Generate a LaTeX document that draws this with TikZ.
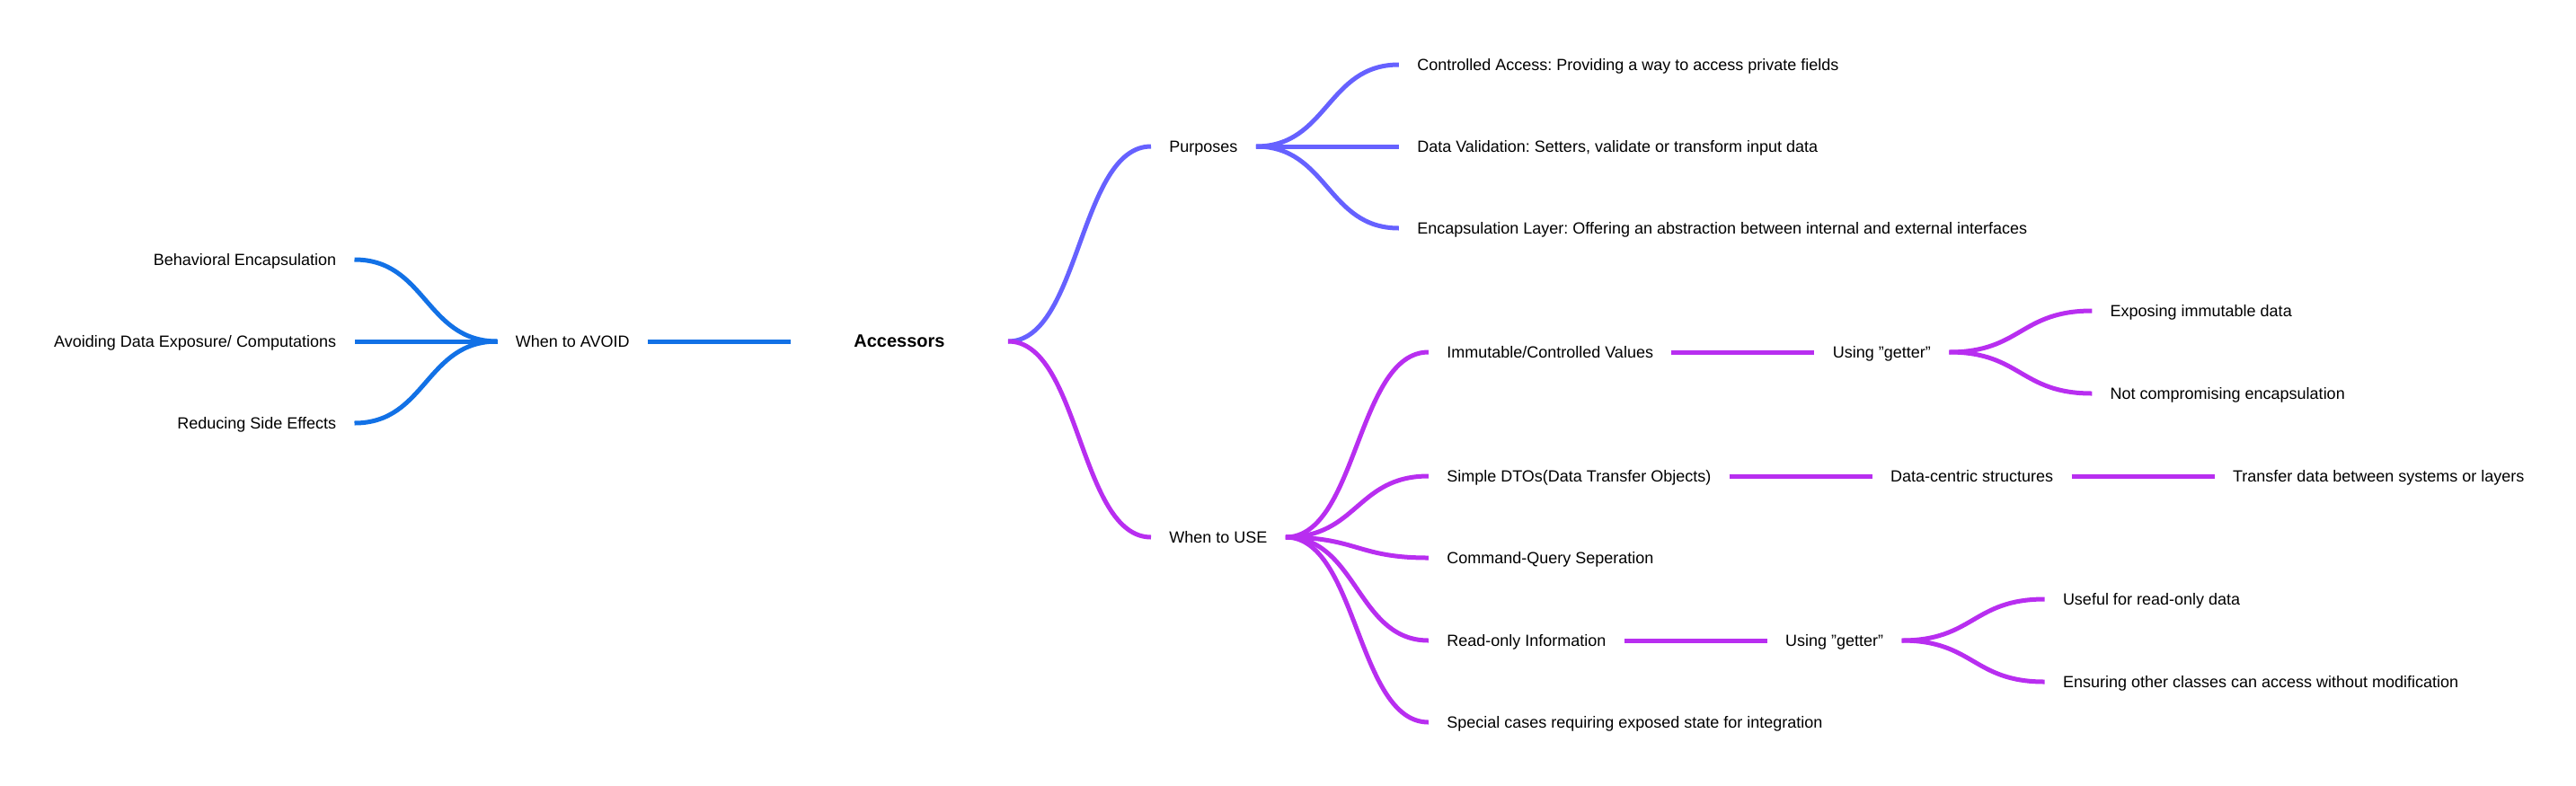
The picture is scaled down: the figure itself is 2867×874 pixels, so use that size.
\documentclass[tikz,border=0pt]{standalone}
\usepackage{fontspec}
\setmainfont{Liberation Sans}
\usetikzlibrary{positioning,calc}
\frenchspacing
\definecolor{avoidblue}{HTML}{1271E6}
\definecolor{purposeviolet}{HTML}{6661FF}
\definecolor{usepurple}{HTML}{B82EF0}
\tikzset{
  item/.style={inner xsep=10pt, inner ysep=0pt, text height=6.5pt, text depth=0pt,
    font=\fontsize{9}{11}\selectfont},
  root/.style={item, inner xsep=35pt, font=\fontsize{10}{12}\selectfont\bfseries},
  branch/.style={line width=2.5pt, line cap=butt},
}
\begin{document}
\begin{tikzpicture}[x=0.5pt,y=-0.5pt]
  \useasboundingbox (0,0) rectangle (2867,874);
  % root
  \node[root] (acc) at (1001,380) {Accessors};
  % left branch
  \node[item, left=79.5pt of acc] (avoid) {When to AVOID};
  \node[item, anchor=east] (ae1) at ($(avoid.west)+(-159,-91)$) {Behavioral Encapsulation};
  \node[item, anchor=east] (ae2) at ($(avoid.west)+(-159,0)$) {Avoiding Data Exposure/ Computations};
  \node[item, anchor=east] (ae3) at ($(avoid.west)+(-159,91)$) {Reducing Side Effects};
  % purposes
  \node[item, anchor=west] (pur) at ($(acc.east)+(159,-217)$) {Purposes};
  \node[item, anchor=west] (pa1) at ($(pur.east)+(159,-91)$) {Controlled Access: Providing a way to access private fields};
  \node[item, anchor=west] (pa2) at ($(pur.east)+(159,0)$) {Data Validation: Setters, validate or transform input data};
  \node[item, anchor=west] (pa3) at ($(pur.east)+(159,91)$) {Encapsulation Layer: Offering an abstraction between internal and external interfaces};
  % when to use
  \node[item, anchor=west] (use) at ($(acc.east)+(159,218)$) {When to USE};
  \node[item, anchor=west] (imm) at ($(use.east)+(159,-206)$) {Immutable/Controlled Values};
  \node[item, anchor=west] (dto) at ($(use.east)+(159,-68)$) {Simple DTOs(Data Transfer Objects)};
  \node[item, anchor=west] (cqs) at ($(use.east)+(159,23)$) {Command-Query Seperation};
  \node[item, anchor=west] (ro) at ($(use.east)+(159,115)$) {Read-only Information};
  \node[item, anchor=west] (spc) at ($(use.east)+(159,206)$) {Special cases requiring exposed state for integration};
  \node[item, right=79.5pt of imm] (get1) {Using "getter"};
  \node[item, anchor=west] (ex1) at ($(get1.east)+(159,-46)$) {Exposing immutable data};
  \node[item, anchor=west] (ex2) at ($(get1.east)+(159,46)$) {Not compromising encapsulation};
  \node[item, right=79.5pt of dto] (dc) {Data-centric structures};
  \node[item, right=79.5pt of dc] (tr) {Transfer data between systems or layers};
  \node[item, right=79.5pt of ro] (get2) {Using "getter"};
  \node[item, anchor=west] (uf1) at ($(get2.east)+(159,-46)$) {Useful for read-only data};
  \node[item, anchor=west] (uf2) at ($(get2.east)+(159,46)$) {Ensuring other classes can access without modification};
  % connectors
  \draw[branch, avoidblue] (acc.west) -- (avoid.east);
  \foreach \n in {ae1,ae2,ae3}
    \draw[branch, avoidblue] (avoid.west) .. controls +(-80,0) and +(80,0) .. (\n.east);
  \foreach \n/\c in {pur/purposeviolet,use/usepurple}
    \draw[branch, \c] (acc.east) .. controls +(80,0) and +(-80,0) .. (\n.west);
  \foreach \n in {pa1,pa2,pa3}
    \draw[branch, purposeviolet] (pur.east) .. controls +(80,0) and +(-80,0) .. (\n.west);
  \foreach \n in {imm,dto,cqs,ro,spc}
    \draw[branch, usepurple] (use.east) .. controls +(80,0) and +(-80,0) .. (\n.west);
  \foreach \a/\b in {imm/get1,get1/ex1,get1/ex2,dto/dc,dc/tr,ro/get2,get2/uf1,get2/uf2}
    \draw[branch, usepurple] (\a.east) .. controls +(80,0) and +(-80,0) .. (\b.west);
\end{tikzpicture}
\end{document}
